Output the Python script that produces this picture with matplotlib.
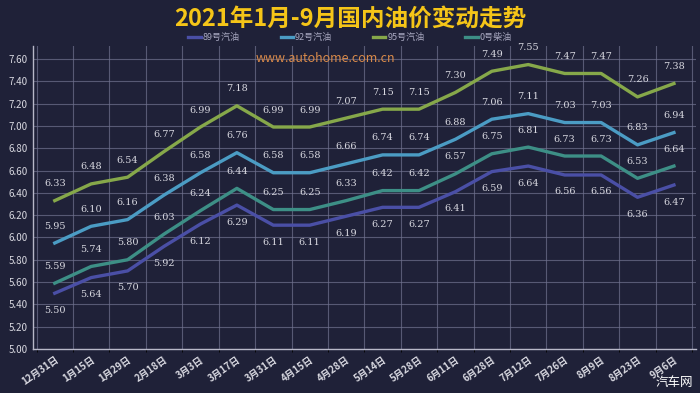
"""2021 domestic fuel price trend chart."""

import matplotlib
matplotlib.use("Agg")
import matplotlib.pyplot as plt
import numpy as np

plt.rcParams["font.family"] = ["Noto Sans CJK SC", "DejaVu Sans"]

dates = ["12月31日", "1月15日", "1月29日", "2月18日", "3月3日", "3月17日",
         "3月31日", "4月15日", "4月28日", "5月14日", "5月28日", "6月11日",
         "6月28日", "7月12日", "7月26日", "8月9日", "8月23日", "9月6日"]

gas89 = [5.50, 5.64, 5.70, 5.92, 6.12, 6.29, 6.11, 6.11, 6.19, 6.27, 6.27,
         6.41, 6.59, 6.64, 6.56, 6.56, 6.36, 6.47]
gas92 = [5.95, 6.10, 6.16, 6.38, 6.58, 6.76, 6.58, 6.58, 6.66, 6.74, 6.74,
         6.88, 7.06, 7.11, 7.03, 7.03, 6.83, 6.94]
gas95 = [6.33, 6.48, 6.54, 6.77, 6.99, 7.18, 6.99, 6.99, 7.07, 7.15, 7.15,
         7.30, 7.49, 7.55, 7.47, 7.47, 7.26, 7.38]
diesel0 = [5.59, 5.74, 5.80, 6.03, 6.24, 6.44, 6.25, 6.25, 6.33, 6.42, 6.42,
           6.57, 6.75, 6.81, 6.73, 6.73, 6.53, 6.64]

series = [
    ("89号汽油", gas89, "#4a4fa6", -1),
    ("92号汽油", gas92, "#4b9cc4", 1),
    ("95号汽油", gas95, "#86a84a", 1),
    ("0号柴油", diesel0, "#3d8f86", 1),
]

BG = "#1f2138"
TXT = "#d8d8e0"

fig = plt.figure(figsize=(7, 3.93), dpi=100, facecolor=BG)
ax = fig.add_axes([0.047, 0.112, 0.947, 0.772], facecolor=BG)

x = np.arange(len(dates))
for name, vals, color, side in series:
    ax.plot(x, vals, color=color, linewidth=2.4, label=name, zorder=3)
    for xi, v in zip(x, vals):
        ax.annotate(f"{v:.2f}", (xi, v), xytext=(0, 9 * side),
                    textcoords="offset points", ha="center",
                    va="bottom" if side > 0 else "top",
                    fontsize=7, color=TXT, family="DejaVu Serif", zorder=4)

ax.set_xlim(-0.6, len(dates) - 0.4)
ax.set_ylim(5.0, 7.72)
ax.set_yticks(np.arange(5.0, 7.61, 0.2))
ax.set_yticklabels([f"{t:.2f}" for t in np.arange(5.0, 7.61, 0.2)])
ax.set_xticks(x)
ax.set_xticklabels(dates, rotation=35, ha="right", rotation_mode="anchor",
                   fontweight="bold")
ax.tick_params(axis="both", colors=TXT, labelsize=7, length=0, pad=4)

# grid at category boundaries
ax.set_xticks(np.arange(-0.5, len(dates), 1), minor=True)
ax.grid(True, which="minor", axis="x", color="#70728e", linewidth=0.8, alpha=0.7)
ax.grid(True, which="major", axis="y", color="#70728e", linewidth=0.8, alpha=0.7)
ax.grid(False, which="major", axis="x")
for s in ["top", "right"]:
    ax.spines[s].set_visible(False)
for s in ["left", "bottom"]:
    ax.spines[s].set_color("#b8b8c8")
    ax.spines[s].set_linewidth(1.0)

fig.text(0.5, 0.953, "2021年1月-9月国内油价变动走势", ha="center", va="center",
         fontsize=17, fontweight="bold", color="#f5c518")
fig.legend(loc="center", bbox_to_anchor=(0.5, 0.905), ncol=4, frameon=False,
           fontsize=6.5, labelcolor="#a8a8c0", handlelength=1.4,
           handletextpad=0.2, columnspacing=4.5)
fig.text(0.465, 0.852, "www.autohome.com.cn", ha="center", va="center",
         fontsize=9, color="#d98a4a")
fig.text(0.99, 0.01, "汽车网", ha="right", va="bottom", fontsize=9,
         color="white")

fig.savefig("out.png", dpi=100, facecolor=BG)
